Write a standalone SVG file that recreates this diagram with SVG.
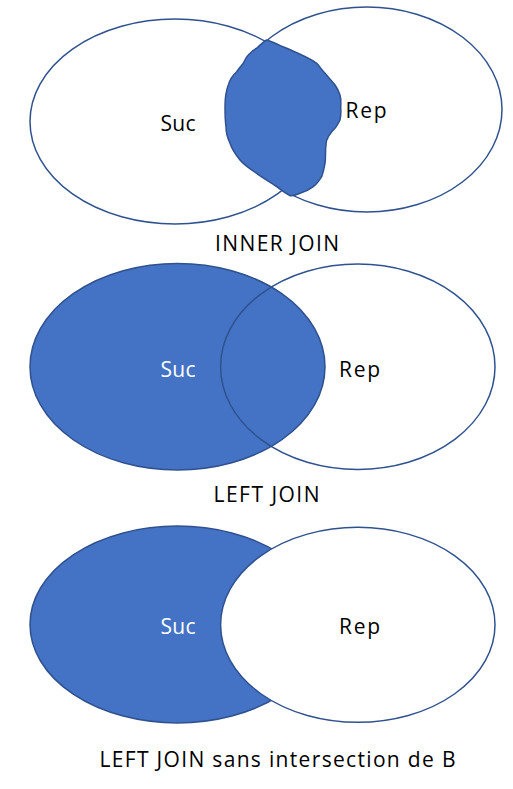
<svg xmlns="http://www.w3.org/2000/svg" width="513" height="789" viewBox="0 0 513 789">
<style>
.o{fill:none;stroke:#2F528F;stroke-width:1.5}
.f{fill:#4472C4;stroke:#2F528F;stroke-width:1.5}
.w{fill:#FFFFFF;stroke:#2F528F;stroke-width:1.5}
text{font-family:"Open Sans","Liberation Sans",sans-serif;font-size:21px;fill:#000}
.lt{fill:#FFFFFF}
</style>
<rect width="513" height="789" fill="#FFFFFF"/>
<g id="inner-join">
<ellipse id="inner-suc" class="o" cx="175" cy="121.5" rx="145" ry="102.5"/>
<ellipse id="inner-rep" class="o" cx="366.8" cy="109.5" rx="135.2" ry="102.5"/>
<path id="inner-blob" class="f" stroke-width="2" d="M266.7,40 C275,43 281,46 286.7,48.3 C297,53 308,57 316.7,63.3 C320,67 322,70 325,73.3 C329,78 332,81 335,85 C338,89 339,92 340,95 C341,99 341,103 340.7,106.7 C341,111 341,116 340,120 C338,124 337,126 335,128.3 C332,131 330,134 328.3,136.7 C326,140 326,143 326,145 C325,152 326,157 325,163.3 C324,169 323,173 321.7,176.7 C319,181 317,184 313.3,186.7 C309,190 305,192 300,193.3 C296,195 293,196 290,195.7 C285,193 281,190 276.7,186.7 C270,182 263,178 256.7,173.3 C250,169 244,165 240,160 C235,154 232,149 230,143.3 C227,137 226,132 226,126.7 C225,120 225,113 225,106.7 C225,99 226,91 228.3,85 C230,79 233,75 236.7,71.7 C239,68 241,66 243.3,63.3 C245,60 246,57 248.3,55 C251,52 253,50 256.7,48.3 C260,45 263,42 266.7,40 Z"/>
<text x="160.5" y="131" textLength="35" lengthAdjust="spacing">Suc</text>
<text x="345.5" y="118" textLength="41" lengthAdjust="spacing">Rep</text>
<text x="215" y="251" textLength="124" lengthAdjust="spacing">INNER JOIN</text>
</g>
<g id="left-join">
<ellipse id="left-suc" class="f" cx="177.5" cy="366.7" rx="147.5" ry="103.3"/>
<ellipse id="left-rep" class="o" cx="357.8" cy="366.7" rx="137.2" ry="102.7"/>
<text class="lt" x="160.5" y="376.5" textLength="35" lengthAdjust="spacing">Suc</text>
<text x="339" y="376.5" textLength="41" lengthAdjust="spacing">Rep</text>
<text x="213.5" y="501.5" textLength="106" lengthAdjust="spacing">LEFT JOIN</text>
</g>
<g id="left-join-excl">
<ellipse id="excl-suc" class="f" cx="177.5" cy="624.5" rx="147.5" ry="98.5"/>
<ellipse id="excl-rep" class="w" cx="357.8" cy="624.8" rx="137.2" ry="97.5"/>
<text class="lt" x="160.5" y="634" textLength="35" lengthAdjust="spacing">Suc</text>
<text x="339" y="634" textLength="41" lengthAdjust="spacing">Rep</text>
<text x="99.5" y="767" textLength="356" lengthAdjust="spacing">LEFT JOIN sans intersection de B</text>
</g>
</svg>
